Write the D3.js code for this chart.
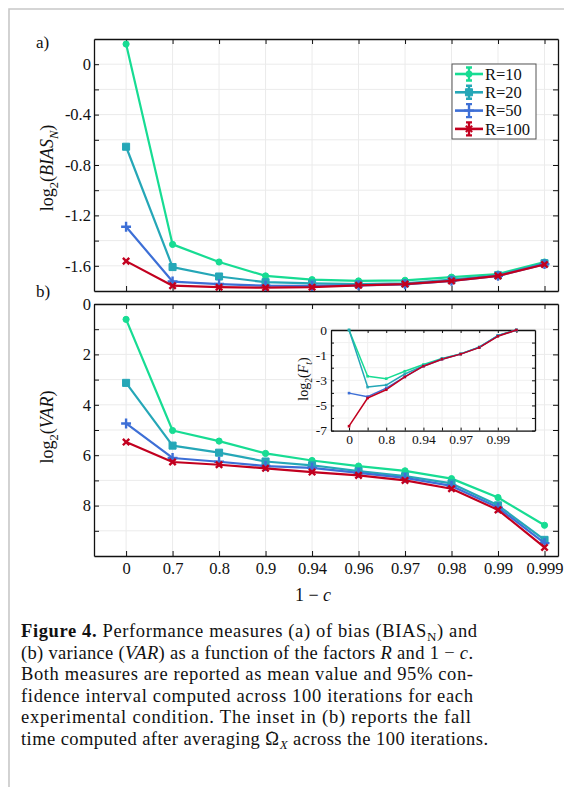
<!DOCTYPE html>
<html>
<head>
<meta charset="utf-8">
<script src="https://cdn.jsdelivr.net/npm/d3@7"></script>
<style>
body{margin:0;background:#fff;}
text{font-family:"Liberation Serif",serif;fill:#111;}
</style>
</head>
<body>
<svg id="fig" width="564" height="787"></svg>
<script>
// values (x positions are categorical)
var categories = ["0","0.7","0.8","0.9","0.94","0.96","0.97","0.98","0.99","0.999"];
var seriesNames = ["R=10","R=20","R=50","R=100"];

// panel a) log2(BIAS_N)
var bias10  = [0.16,-1.43,-1.57,-1.68,-1.71,-1.72,-1.715,-1.69,-1.665,-1.57];
var bias20  = [-0.655,-1.61,-1.685,-1.73,-1.74,-1.745,-1.74,-1.71,-1.675,-1.58];
var bias50  = [-1.29,-1.725,-1.745,-1.758,-1.76,-1.755,-1.747,-1.72,-1.68,-1.587];
var bias100 = [-1.563,-1.758,-1.77,-1.774,-1.77,-1.755,-1.745,-1.72,-1.68,-1.59];

// panel b) log2(VAR)
var var10  = [0.61,5.02,5.44,5.93,6.21,6.43,6.62,6.93,7.68,8.78];
var var20  = [3.13,5.62,5.9,6.25,6.4,6.63,6.83,7.12,7.99,9.36];
var var50  = [4.74,6.11,6.26,6.43,6.5,6.7,6.9,7.22,8.08,9.49];
var var100 = [5.48,6.27,6.38,6.52,6.67,6.8,7.0,7.33,8.17,9.66];

// inset log2(F_t)
var fall10  = [0,-2.68,-2.87,-2.28,-1.75,-1.27,-0.95,-0.68,-0.22,0];
var fall20  = [0,-3.54,-3.38,-2.5,-1.83,-1.28,-0.95,-0.68,-0.23,0];
var fall50  = [-4.02,-4.3,-3.62,-2.73,-1.88,-1.32,-0.96,-0.69,-0.23,0];
var fall100 = [-6.65,-4.41,-3.75,-2.73,-1.88,-1.32,-0.96,-0.7,-0.25,0];

// tick labels
var biasTicks = [0,-0.4,-0.8,-1.2,-1.6];
var varTicks = [0,2,4,6,8];
var insetYTicks = [0,-1,-3,-5,-7];
var insetXLabels = ["0","0.8","0.94","0.97","0.99"];

var colors = ["#17dc93","#25a7b7","#3d6fd6","#c2001f"];
var symbols = [d3.symbolCircle, d3.symbolSquare, d3.symbolPlus, d3.symbolX];
var symbolSize = [30, 50, 34, 28];

var svg = d3.select("#fig");
svg.append("rect").attr("width",564).attr("height",787).attr("fill","#fff");
// page frame
svg.append("path").attr("d","M9,787V9H564")
    .attr("fill","none").attr("stroke","#c8c8c8").attr("stroke-width",1.6);

var x = d3.scaleLinear().domain([-0.69, 9.29]).range([94, 558]);
var yA = d3.scaleLinear().domain([0.2, -1.8]).range([39, 291]);
var yB = d3.scaleLinear().domain([0, 10]).range([304, 556]);
var idx = d3.range(categories.length);

function frame(g, xs, ys, o) {
    var xr = d3.extent(xs.range()), yr = [ys.range()[0], ys.range()[ys.range().length - 1]];
    var grid = g.append("g").attr("stroke", o.gridColor || "#ebebeb").attr("stroke-width", 1);
    grid.selectAll(".gx").data(o.xTicks).join("line").attr("class","gx")
        .attr("x1", xs).attr("x2", xs).attr("y1", yr[0]).attr("y2", yr[1]);
    grid.selectAll(".gy").data(o.yTicks).join("line").attr("class","gy")
        .attr("y1", ys).attr("y2", ys).attr("x1", xr[0]).attr("x2", xr[1]);

    var axes = [
        [d3.axisBottom(xs).tickValues(o.xTicks).tickFormat(o.xFormat || function(){return "";}), "translate(0," + yr[1] + ")"],
        [d3.axisTop(xs).tickValues(o.xTicks).tickFormat(function(){return "";}), "translate(0," + yr[0] + ")"],
        [d3.axisLeft(ys).tickValues(o.yTicks).tickFormat(o.yFormat), "translate(" + xr[0] + ",0)"],
        [d3.axisRight(ys).tickValues(o.yTicks).tickFormat(function(){return "";}), "translate(" + xr[1] + ",0)"]
    ];
    axes.forEach(function(a, i) {
        var ax = g.append("g").attr("transform", a[1])
            .call(a[0].tickSizeInner(-o.tick).tickSizeOuter(0).tickPadding(i == 0 ? o.padX : o.padY));
        ax.select(".domain").attr("stroke", "#111").attr("stroke-width", 1.3);
        ax.selectAll(".tick line").attr("stroke", "#111").attr("stroke-width", 1);
        ax.selectAll("text").style("font-family", "Liberation Serif, serif")
            .style("font-size", o.fontSize + "px").attr("fill", "#111");
    });
}

function drawSeries(g, xs, ys, list, markers, width) {
    var line = d3.line().x(function(d, i) { return xs(i); }).y(function(d) { return ys(d); });
    list.forEach(function(data, s) {
        g.append("path").datum(data).attr("d", line)
            .attr("fill", "none").attr("stroke", colors[s])
            .attr("stroke-width", width).attr("stroke-linejoin", "round");
        if (!markers) return;
        var sym = d3.symbol().type(symbols[s]).size(symbolSize[s]);
        var stroked = s >= 2;
        g.selectAll(".m" + s).data(data).join("path").attr("class", "m" + s)
            .attr("transform", function(d, i) { return "translate(" + xs(i) + "," + ys(d) + ")"; })
            .attr("d", sym)
            .attr("fill", stroked ? "none" : colors[s])
            .attr("stroke", colors[s]).attr("stroke-width", stroked ? 2.4 : 1);
    });
}

// math-ish label: parts = [text, italic, subscript]
function mathText(parent, parts, size) {
    var t = parent.append("text").style("font-size", size + "px");
    var shifted = false;
    parts.forEach(function(p) {
        var ts = t.append("tspan").text(p[0]);
        if (p[1]) ts.style("font-style", "italic");
        if (p[2]) {
            ts.style("font-size", (size * 0.7) + "px").attr("dy", size * 0.3);
            shifted = true;
        } else if (shifted) {
            ts.attr("dy", -size * 0.3);
            shifted = false;
        }
    });
    return t;
}

/* ---------- panel a ---------- */
var gA = svg.append("g");
frame(gA, x, yA, {
    xTicks: idx, yTicks: d3.range(0, -1.7, -0.2).map(function(v){return +v.toFixed(1);}),
    yFormat: function(v) { return biasTicks.indexOf(v) >= 0 ? (v == 0 ? "0" : v.toFixed(1)) : ""; },
    tick: 5, padX: 5, padY: 3, fontSize: 16.5
});
drawSeries(gA, x, yA, [bias10, bias20, bias50, bias100], true, 2.2);

mathText(gA, [["log"],["2",0,1],["("],["BIAS",1],["N",1,1],[")"]], 18)
    .attr("text-anchor", "middle").attr("transform", "translate(53,168) rotate(-90)");
gA.append("text").attr("x", 36).attr("y", 48).style("font-size", "17px").text("a)");

// legend
var leg = gA.append("g").attr("transform", "translate(452,64)");
leg.append("rect").attr("width", 84).attr("height", 75)
    .attr("fill", "#fff").attr("stroke", "#555").attr("stroke-width", 1);
seriesNames.forEach(function(name, s) {
    var ly = 10 + s * 18.3;
    var e = leg.append("g").attr("transform", "translate(0," + ly + ")");
    e.append("line").attr("x1", 3).attr("x2", 31).attr("stroke", colors[s]).attr("stroke-width", 2.6);
    e.append("path").attr("d", "M17,-6.5V6.5M14,-6.5H20M14,6.5H20")
        .attr("stroke", colors[s]).attr("stroke-width", 2.4).attr("fill", "none");
    e.append("path").attr("transform", "translate(17,0)")
        .attr("d", d3.symbol().type(symbols[s]).size(symbolSize[s]))
        .attr("fill", s >= 2 ? "none" : colors[s]).attr("stroke", colors[s]).attr("stroke-width", s >= 2 ? 2 : 1);
    e.append("text").attr("x", 33).attr("dy", "0.35em").style("font-size", "16.5px").text(name);
});

/* ---------- panel b ---------- */
var gB = svg.append("g");
frame(gB, x, yB, {
    xTicks: idx, xFormat: function(i) { return categories[i]; },
    yTicks: d3.range(0, 10),
    yFormat: function(v) { return varTicks.indexOf(v) >= 0 ? v : ""; },
    tick: 5, padX: 6, padY: 3, fontSize: 16.5
});
drawSeries(gB, x, yB, [var10, var20, var50, var100], true, 2.2);

mathText(gB, [["log"],["2",0,1],["("],["VAR",1],[")"]], 18)
    .attr("text-anchor", "middle").attr("transform", "translate(53,427) rotate(-90)");
gB.append("text").attr("x", 36).attr("y", 297).style("font-size", "17px").text("b)");
mathText(gB, [["1 − "],["c",1]], 18).attr("x", 313).attr("y", 601).attr("text-anchor", "middle");

/* ---------- inset ---------- */
var xi = d3.scaleLinear().domain([-0.97, 10]).range([331, 535]);
var yi = d3.scaleLinear().domain(insetYTicks).range([330, 355.15, 380.3, 405.45, 430.6]);
var gI = svg.append("g");
gI.append("rect").attr("x", 331).attr("y", 330).attr("width", 204).attr("height", 100.6).attr("fill", "#fff");
frame(gI, xi, yi, {
    xTicks: idx,
    xFormat: function(i) { return i % 2 == 0 ? insetXLabels[i / 2] : ""; },
    yTicks: [0, -0.5, -1, -2, -3, -4, -5, -6, -7],
    yFormat: function(v) { return insetYTicks.indexOf(v) >= 0 ? v : ""; },
    tick: 3, padX: 4, padY: 4, fontSize: 13.5, gridColor: "#f0f0f0"
});
drawSeries(gI, xi, yi, [fall10, fall20, fall50, fall100], false, 1.5);
// little square markers on the inset curves
[fall10, fall20, fall50, fall100].forEach(function(data, s) {
    gI.selectAll(".im" + s).data(data).join("rect").attr("class", "im" + s)
        .attr("x", function(d, i) { return xi(i) - 1.3; })
        .attr("y", function(d) { return yi(d) - 1.3; })
        .attr("width", 2.6).attr("height", 2.6).attr("fill", colors[s]);
});
mathText(gI, [["log"],["2",0,1],["("],["F",1],["t",1,1],[")"]], 14)
    .attr("text-anchor", "middle").attr("transform", "translate(308,379) rotate(-90)");

/* ---------- caption ---------- */
// flags: b bold, i italic, s subscript, h = circumflex sitting over the previous glyph
var capLines = [
    [[["Figure 4.", "b"], [" Performance measures (a) of bias (BIAS"], ["N", "s"], [") and"]], 456],
    [[["(b) variance ("], ["VAR", "i"], [") as a function of the factors "], ["R", "i"], [" and 1 − "], ["c", "i"], ["."]], 452],
    [[["Both measures are reported as mean value and 95% con-"]], 452],
    [[["fidence interval computed across 100 iterations for each"]], 452],
    [[["experimental condition. The inset in (b) reports the fall"]], 450],
    [[["time computed after averaging Ω"], ["ˆ", "h"], ["X", "si"], [" across the 100 iterations."]], 467]
];
var cap = svg.append("g");
capLines.forEach(function(l, k) {
    var t = cap.append("text").attr("x", 21).attr("y", 637 + k * 21.6)
        .style("font-size", "18.5px").attr("textLength", l[1]).attr("lengthAdjust", "spacing");
    var dyNow = 0, hatBack = 0;
    l[0].forEach(function(p) {
        var ts = t.append("tspan").text(p[0]);
        var f = p[1] || "";
        var want = 0;
        if (f.indexOf("b") >= 0) ts.style("font-weight", "bold");
        if (f.indexOf("i") >= 0) ts.style("font-style", "italic");
        if (f.indexOf("s") >= 0) { ts.style("font-size", "13px"); want = 4; }
        if (f.indexOf("h") >= 0) { ts.style("font-size", "17px").attr("dx", -10.5); want = -2; hatBack = 4.5; }
        else if (hatBack) { ts.attr("dx", hatBack); hatBack = 0; }
        if (want != dyNow) { ts.attr("dy", want - dyNow); dyNow = want; }
    });
});
</script>
</body>
</html>
